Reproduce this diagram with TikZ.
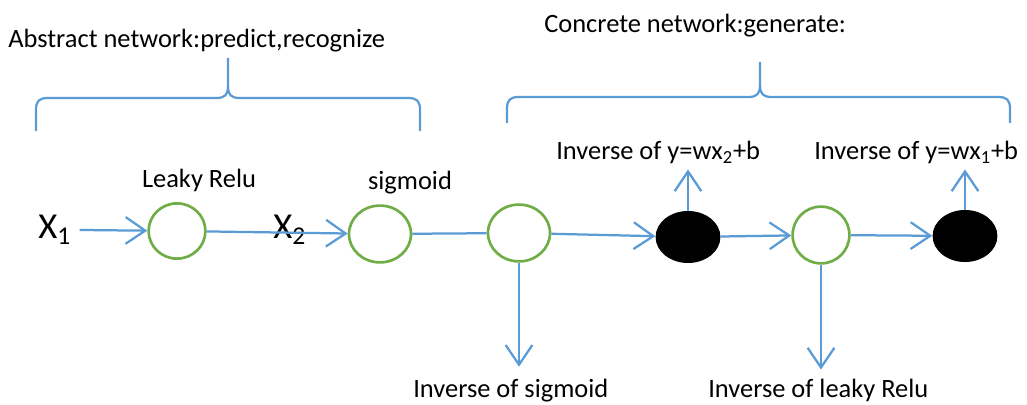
\documentclass[tikz,border=0pt]{standalone}
\usepackage{fontspec}
\setmainfont{Carlito}
\usetikzlibrary{arrows.meta, shapes.geometric}
\definecolor{lineblue}{RGB}{91,155,213}
\definecolor{ringgreen}{RGB}{112,173,71}

\begin{document}
\begin{tikzpicture}[
  x = 0.025cm,
  y = -0.025cm,
  > = {Straight Barb[length = 14pt, width = 19pt]},
  link/.style = {draw = lineblue, line width = 1.6pt},
  brace/.style = {draw = lineblue, line width = 1.6pt},
  neuron/.style = {ellipse, draw = ringgreen, fill = white, line width = 1.9pt,
    minimum width = 1.55cm, minimum height = 1.42cm, inner sep = 0pt},
  inverse/.style = {ellipse, fill = black, minimum width = 1.62cm,
    minimum height = 1.3cm, inner sep = 0pt},
  note/.style = {font = \fontsize{18.8}{22}\selectfont, inner sep = 0pt},
  inputvar/.style = {font = \fontsize{26}{30}\selectfont, inner sep = 0pt},
  ]

  \useasboundingbox (0, 0) rectangle (1027, 405);

  \node at (177, 231)
  [neuron, minimum width = 1.42cm, minimum height = 1.38cm, name = LeakyRelu] {};

  \node at (380, 234)
  [neuron, name = Sigmoid] {};

  \node at (519, 233)
  [neuron, name = InvSigmoid] {};

  \node at (688, 237)
  [inverse, name = InvLinearTwo] {};

  \node at (821, 235)
  [neuron, minimum width = 1.42cm, name = InvLeakyRelu] {};

  \node at (965, 236)
  [inverse, name = InvLinearOne] {};

  \node at (38, 239)
  [inputvar, anchor = base west, name = InputOne] {X\textsubscript{1}};

  \node at (273, 239)
  [inputvar, anchor = base west, name = InputTwo] {X\textsubscript{2}};

  \node at (199, 188)
  [note, anchor = base, name = LeakyReluText] {Leaky Relu};

  \node at (410, 190)
  [note, anchor = base, name = SigmoidText] {sigmoid};

  \node at (556, 160)
  [note, anchor = base west, name = LinearTwoText] {Inverse of y=wx\textsubscript{2}+b};

  \node at (814, 160)
  [note, anchor = base west, name = LinearOneText] {Inverse of y=wx\textsubscript{1}+b};

  \node at (413, 398)
  [note, anchor = base west, name = InvSigmoidText] {Inverse of sigmoid};

  \node at (708, 398)
  [note, anchor = base west, name = InvLeakyReluText] {Inverse of leaky Relu};

  \node at (8, 48)
  [note, anchor = base west, name = AbstractTitle] {Abstract network:predict,recognize};

  \node at (544, 33)
  [note, anchor = base west, name = ConcreteTitle] {Concrete network:generate:};

  \draw [link, ->, shorten < = 6pt] (InputOne.east) to (LeakyRelu);

  \draw [link, ->] (LeakyRelu) to (Sigmoid);

  \draw [link] (Sigmoid) to (InvSigmoid);

  \draw [link, ->] (InvSigmoid) to (InvLinearTwo);

  \draw [link, ->] (InvLinearTwo) to (InvLeakyRelu);

  \draw [link, ->] (InvLeakyRelu) to (InvLinearOne);

  \draw [link, ->, shorten > = 9pt] (InvSigmoid) to (InvSigmoid |- InvSigmoidText.north);

  \draw [link, ->, shorten > = 7pt] (InvLeakyRelu) to (InvLeakyRelu |- InvLeakyReluText.north);

  \draw [link, ->, shorten > = 3.5pt] (InvLinearTwo) to (InvLinearTwo |- LinearTwoText.south);

  \draw [link, ->, shorten > = 3.5pt] (InvLinearOne) to (InvLinearOne |- LinearOneText.south);

  \draw [brace] (36, 131) -- (36, 110) .. controls (36, 101) and (39, 98) .. (48, 98)
  -- (216, 98) .. controls (225, 98) and (228, 95) .. (228, 86) -- (228, 58);

  \draw [brace] (228, 86) .. controls (228, 95) and (231, 98) .. (240, 98)
  -- (408, 98) .. controls (417, 98) and (420, 101) .. (420, 110) -- (420, 131);

  \draw [brace] (507, 123) -- (507, 109) .. controls (507, 100) and (510, 97) .. (519, 97)
  -- (748, 97) .. controls (757, 97) and (760, 94) .. (760, 85) -- (760, 62);

  \draw [brace] (760, 85) .. controls (760, 94) and (763, 97) .. (772, 97)
  -- (998, 97) .. controls (1007, 97) and (1010, 100) .. (1010, 109) -- (1010, 123);

\end{tikzpicture}
\end{document}
